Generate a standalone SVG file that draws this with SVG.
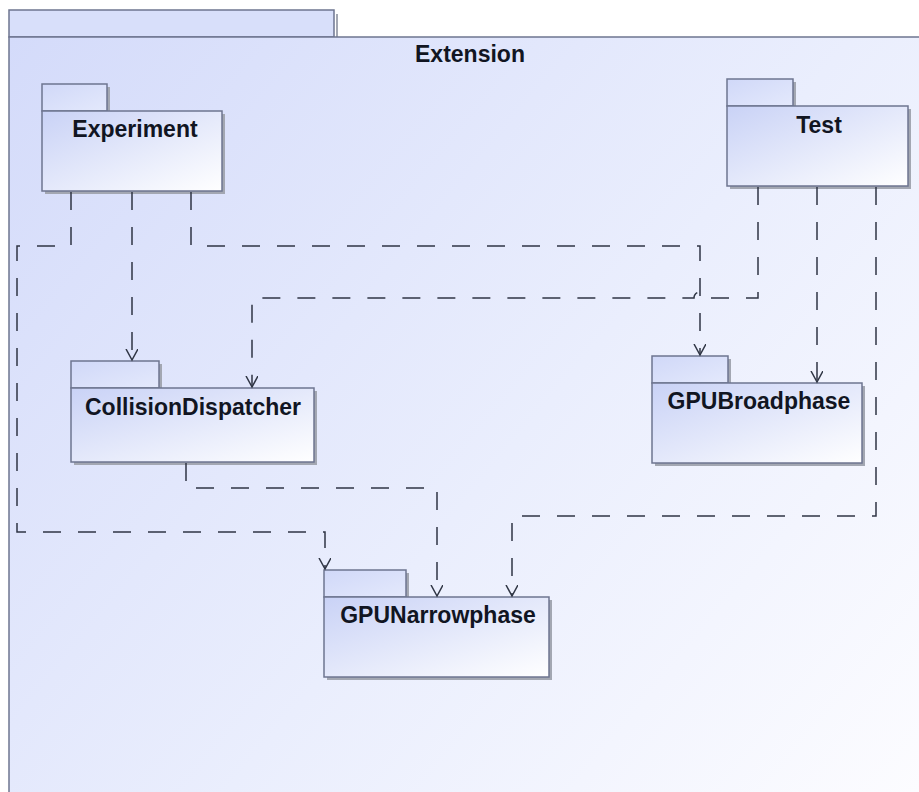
<svg xmlns="http://www.w3.org/2000/svg" width="919" height="792" viewBox="0 0 919 792">
<defs>
<linearGradient id="bg" gradientUnits="userSpaceOnUse" x1="9" y1="37" x2="919" y2="792">
<stop offset="0" stop-color="#d4dbfa"/>
<stop offset="0.55" stop-color="#eaeefd"/>
<stop offset="1" stop-color="#fcfcff"/>
</linearGradient>
<linearGradient id="pk" x1="0" y1="0" x2="1" y2="1">
<stop offset="0" stop-color="#c9d2f6"/>
<stop offset="1" stop-color="#ffffff"/>
</linearGradient>
<linearGradient id="tab" x1="0" y1="0" x2="1" y2="1">
<stop offset="0" stop-color="#d0d8f8"/>
<stop offset="1" stop-color="#e4e9fc"/>
</linearGradient>
<marker id="arr" markerWidth="14" markerHeight="14" refX="11" refY="6" orient="auto" markerUnits="userSpaceOnUse">
<path d="M0,0 L11,6 L0,12" fill="none" stroke="#2f3544" stroke-width="1.5"/>
</marker>
</defs>
<style>
.box{stroke:#6e7590;stroke-width:1.5}
.sh{fill:#a3a7b2}
.t{font-family:"Liberation Sans",Arial,sans-serif;font-weight:bold;font-size:23px;fill:#111522;text-anchor:middle}
.c{fill:none;stroke:#2f3544;stroke-width:1.5;stroke-dasharray:18 17}
</style>
<rect width="919" height="792" fill="#ffffff"/>
<g id="Extension">
<rect x="336" y="14" width="2" height="25" class="sh"/>
<rect x="9" y="10" width="325" height="27" fill="#d8dffa" class="box"/>
<rect x="9" y="37" width="940" height="780" fill="url(#bg)" class="box"/>
<text x="470" y="62" class="t">Extension</text>
</g>
<g id="Experiment">
<rect x="45" y="87" width="65" height="27" class="sh"/>
<rect x="45" y="114" width="180" height="80" class="sh"/>
<rect x="42" y="84" width="65" height="27" fill="url(#tab)" class="box"/>
<rect x="42" y="111" width="180" height="80" fill="url(#pk)" class="box"/>
<text x="135" y="137" class="t">Experiment</text>
</g>
<g id="Test">
<rect x="730" y="82" width="66" height="27" class="sh"/>
<rect x="730" y="109" width="181" height="80" class="sh"/>
<rect x="727" y="79" width="66" height="27" fill="url(#tab)" class="box"/>
<rect x="727" y="106" width="181" height="80" fill="url(#pk)" class="box"/>
<text x="819" y="133" class="t">Test</text>
</g>
<g id="CollisionDispatcher">
<rect x="74" y="364" width="88" height="27" class="sh"/>
<rect x="74" y="391" width="243" height="74" class="sh"/>
<rect x="71" y="361" width="88" height="27" fill="url(#tab)" class="box"/>
<rect x="71" y="388" width="243" height="74" fill="url(#pk)" class="box"/>
<text x="193" y="415" class="t">CollisionDispatcher</text>
</g>
<g id="GPUBroadphase">
<rect x="655" y="359" width="76" height="27" class="sh"/>
<rect x="655" y="386" width="210" height="80" class="sh"/>
<rect x="652" y="356" width="76" height="27" fill="url(#tab)" class="box"/>
<rect x="652" y="383" width="210" height="80" fill="url(#pk)" class="box"/>
<text x="759" y="409" class="t">GPUBroadphase</text>
</g>
<g id="GPUNarrowphase">
<rect x="327" y="573" width="82" height="27" class="sh"/>
<rect x="327" y="600" width="225" height="80" class="sh"/>
<rect x="324" y="570" width="82" height="27" fill="url(#tab)" class="box"/>
<rect x="324" y="597" width="225" height="80" fill="url(#pk)" class="box"/>
<text x="438" y="623" class="t">GPUNarrowphase</text>
</g>
<g id="connectors">
<path class="c" d="M71,192 V246 H17 V532 H325 V569" marker-end="url(#arr)"/>
<path class="c" d="M132,192 V360" marker-end="url(#arr)"/>
<path class="c" d="M191,192 V246 H700 V355" marker-end="url(#arr)"/>
<path class="c" d="M758,187 V298 H706 A6,6 0 0 0 694,298 H252 V387" marker-end="url(#arr)"/>
<path class="c" d="M817,187 V382" marker-end="url(#arr)"/>
<path class="c" d="M876,187 V516 H512 V596" marker-end="url(#arr)"/>
<path class="c" d="M186,463 V488 H437 V596" marker-end="url(#arr)"/>
</g>
</svg>
